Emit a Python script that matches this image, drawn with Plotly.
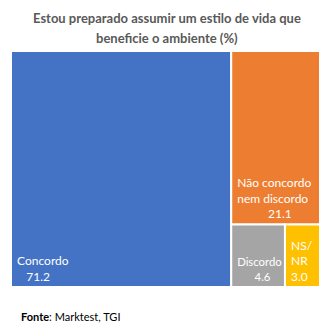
import plotly.graph_objects as go

categories = ["Concordo", "Não concordo<br>nem discordo", "Discordo", "NS/<br>NR"]
values = [71.2, 21.1, 4.6, 3.0]
colors = ["#4472C4", "#ED7D31", "#A5A5A5", "#FFC000"]
title_lines = ["Estou preparado assumir um estilo de vida que", "beneficie o ambiente (%)"]

# layout-only helpers: non-breaking spaces to inset / centre the value line
NB = "\u00a0"
value_indent = [3, 10, 6, 0]
display = [NB + c.replace("<br>", "<br>" + NB) for c in categories]
value_prefix = [NB * (1 + n) for n in value_indent]

W, H = 335, 330
FONT = "Lato, Open Sans, Liberation Sans, sans-serif"

fig = go.Figure(go.Treemap(
    labels=categories,
    parents=[""] * len(categories),
    values=values,
    customdata=list(zip(display, value_prefix)),
    sort=True,
    texttemplate="%{customdata[0]}<br>%{customdata[1]}%{value:.1f}",
    textposition="bottom left",
    textfont=dict(family=FONT, size=12, color="white"),
    marker=dict(colors=colors, line=dict(color="white", width=2), pad=dict(t=0, l=0, r=0, b=0)),
    tiling=dict(packing="squarify", squarifyratio=1, pad=0),
    pathbar=dict(visible=False),
    hoverinfo="label+value",
    domain=dict(x=[11 / W, 320 / W], y=[(H - 287) / H, (H - 51) / H]),
))

title_y = [18, 38]
annotations = [
    dict(
        text="<b>%s</b>" % line,
        xref="paper", yref="paper", x=167 / W, y=1 - yy / H,
        xanchor="center", yanchor="middle", showarrow=False,
        font=dict(family=FONT, size=13, color="#595959"),
    )
    for line, yy in zip(title_lines, title_y)
]
annotations.append(dict(
    text="<b>Fonte</b>: Marktest, TGI",
    xref="paper", yref="paper", x=19 / W, y=1 - 316 / H,
    xanchor="left", yanchor="middle", showarrow=False,
    font=dict(family=FONT, size=11, color="black"),
))

fig.update_layout(
    width=W, height=H,
    margin=dict(l=0, r=0, t=0, b=0),
    paper_bgcolor="white",
    annotations=annotations,
)

fig.write_html("out.html")
